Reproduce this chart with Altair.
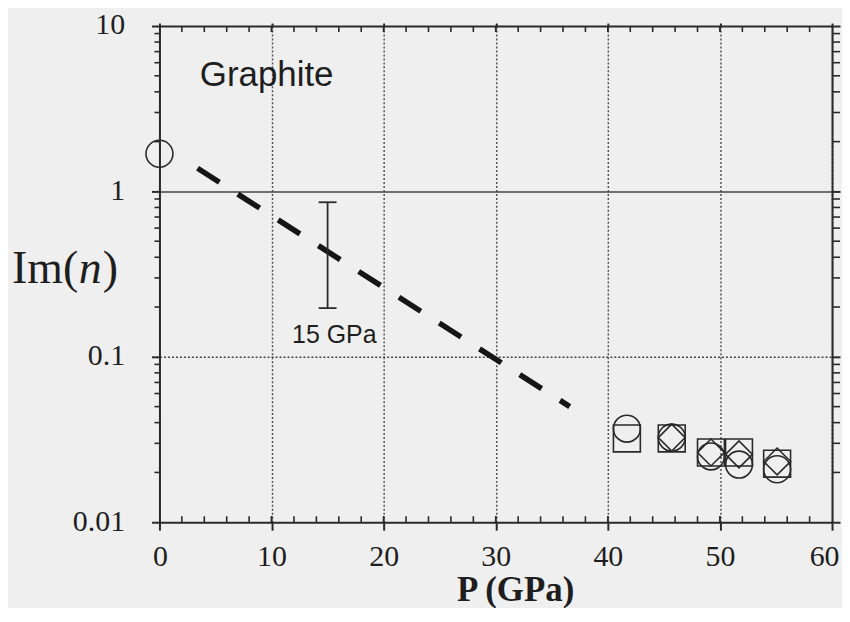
import altair as alt
import pandas as pd

# ---- data ----
circle_p = [0, 41.7, 45.7, 49.2, 51.7, 55.1]
circle_im = [1.69, 0.0368, 0.0325, 0.0250, 0.0223, 0.0209]
square_p = [41.7, 45.7, 49.2, 51.7, 55.1]
square_im = [0.0321, 0.0321, 0.0264, 0.0264, 0.0226]
diamond_p = [45.7, 49.2, 51.7, 55.1]
diamond_im = [0.0325, 0.0264, 0.0257, 0.0233]

trend_p = [3.4, 36.6]
trend_im = [1.38, 0.050]

errbar_p = [15.0]
errbar_lo = [0.197]
errbar_hi = [0.86]
errcap_half = 0.8

x_major = [0, 10, 20, 30, 40, 50, 60]
x_minor = list(range(2, 60, 2))
y_major = [0.01, 0.1, 1, 10]
y_minor = [k * 10.0 ** e for e in (-2, -1, 0) for k in range(2, 10)]

W, H = 675, 498
INK = "#2a2a2a"

xs = alt.Scale(domain=[0, 60], nice=False, zero=False)
ys = alt.Scale(type="log", domain=[0.01, 10], nice=False)

pts = pd.concat([
    pd.DataFrame({"p": circle_p, "im": circle_im, "shape": "circle"}),
    pd.DataFrame({"p": square_p, "im": square_im, "shape": "square"}),
    pd.DataFrame({"p": diamond_p, "im": diamond_im, "shape": "diamond"}),
], ignore_index=True)

shape_enc = alt.Shape("shape:N", scale=alt.Scale(domain=["circle", "square", "diamond"],
                                                 range=["circle", "square", "diamond"]), legend=None)

x_axis_bottom = alt.Axis(
    orient="bottom", values=x_major, format="d",
    labelFont="Liberation Serif", labelFontSize=30, labelColor="#1e1e1e",
    labelBaseline="alphabetic", labelPadding=35, labelFlush=True, labelFlushOffset=7,
    tickSize=8, tickColor=INK, tickWidth=2,
    domainColor=INK, domainWidth=2,
    grid=True, gridDash=[2, 2], gridColor="#555", gridWidth=1.5,
    title="P (GPa)", titleFont="Liberation Serif", titleFontSize=35,
    titleFontWeight="bold", titleColor="#1e1e1e", titleX=357, titleY=79,
    titleBaseline="alphabetic", titleAnchor="middle",
)
y_axis_left = alt.Axis(
    orient="left", values=y_major, format="~g",
    labelFont="Liberation Serif", labelFontSize=30, labelColor="#1e1e1e",
    labelBaseline="alphabetic", labelOffset=8, labelPadding=27,
    tickSize=8, tickColor=INK, tickWidth=2,
    domainColor=INK, domainWidth=2,
    grid=True, gridColor="#444", gridWidth=1.5,
    gridDash={"condition": {"test": "datum.value == 1", "value": []}, "value": [2, 2]},
    gridOpacity={"condition": {"test": "datum.value < 0.05 || datum.value > 5", "value": 0}, "value": 1},
    title=None,
)

points = alt.Chart(pts).mark_point(filled=False, size=729, strokeWidth=1.6, color=INK, opacity=1).encode(
    x=alt.X("p:Q", scale=xs, axis=x_axis_bottom),
    y=alt.Y("im:Q", scale=ys, axis=y_axis_left),
    shape=shape_enc,
)

mirror = alt.Chart(pts).mark_point(opacity=0).encode(
    x=alt.X("p:Q", scale=xs, axis=alt.Axis(orient="top", values=x_major, labels=False, tickSize=3,
                                             tickColor=INK, tickWidth=2, domainColor=INK, domainWidth=2,
                                             grid=False, title=None)),
    y=alt.Y("im:Q", scale=ys, axis=alt.Axis(orient="right", values=y_major, labels=False, tickSize=8,
                                              tickColor=INK, tickWidth=2, domainColor=INK, domainWidth=2,
                                              grid=False, title=None)),
)

xminor_df = pd.DataFrame({"v": x_minor + x_major[1:-1]})
yminor_df = pd.DataFrame({"v": y_minor})

bottom_in = alt.Chart(xminor_df).mark_rule(color=INK, strokeWidth=1.6).encode(
    x=alt.X("v:Q", scale=xs, axis=None), y=alt.value(H), y2=alt.value(H - 6))
top_in = alt.Chart(xminor_df).mark_rule(color=INK, strokeWidth=1.6).encode(
    x=alt.X("v:Q", scale=xs, axis=None), y=alt.value(0), y2=alt.value(6))
left_out = alt.Chart(yminor_df).mark_rule(color=INK, strokeWidth=1.6).encode(
    y=alt.Y("v:Q", scale=ys, axis=None), x=alt.value(0), x2=alt.value(-5))
right_out = alt.Chart(yminor_df).mark_rule(color=INK, strokeWidth=1.6).encode(
    y=alt.Y("v:Q", scale=ys, axis=None), x=alt.value(W), x2=alt.value(W + 8))

trend = alt.Chart(pd.DataFrame({"p": trend_p, "im": trend_im})).mark_line(
    color="#151515", strokeWidth=5.5, strokeDash=[26, 22], strokeCap="butt").encode(
    x=alt.X("p:Q", scale=xs, axis=None), y=alt.Y("im:Q", scale=ys, axis=None))

eb_df = pd.DataFrame({"p": errbar_p, "lo": errbar_lo, "hi": errbar_hi})
eb_v = alt.Chart(eb_df).mark_rule(color=INK, strokeWidth=1.8).encode(
    x=alt.X("p:Q", scale=xs, axis=None), y=alt.Y("lo:Q", scale=ys, axis=None), y2="hi:Q")
caps_df = pd.DataFrame({
    "x1": [errbar_p[0] - errcap_half] * 2,
    "x2": [errbar_p[0] + errcap_half] * 2,
    "y": [errbar_lo[0], errbar_hi[0]],
})
eb_caps = alt.Chart(caps_df).mark_rule(color=INK, strokeWidth=1.8).encode(
    x=alt.X("x1:Q", scale=xs, axis=None), x2="x2:Q", y=alt.Y("y:Q", scale=ys, axis=None))

graphite = alt.Chart(pd.DataFrame({"p": [3.6], "im": [4.35], "t": ["Graphite"]})).mark_text(
    font="Liberation Sans", fontSize=35, align="left", baseline="alphabetic", color="#1e1e1e").encode(
    x=alt.X("p:Q", scale=xs, axis=None), y=alt.Y("im:Q", scale=ys, axis=None), text="t:N")
gpa15 = alt.Chart(pd.DataFrame({"p": [15.6], "im": [0.121], "t": ["15 GPa"]})).mark_text(
    font="Liberation Sans", fontSize=25, align="center", baseline="alphabetic", color="#1e1e1e").encode(
    x=alt.X("p:Q", scale=xs, axis=None), y=alt.Y("im:Q", scale=ys, axis=None), text="t:N")

yt1 = alt.Chart(pd.DataFrame({"t": ["Im("]})).mark_text(
    font="Liberation Serif", fontSize=46, align="left", baseline="alphabetic", color="#1e1e1e").encode(
    x=alt.value(-148), y=alt.value(258), text="t:N")
yt2 = alt.Chart(pd.DataFrame({"t": ["n"]})).mark_text(
    font="Liberation Serif", fontSize=46, fontStyle="italic", align="left", baseline="alphabetic",
    color="#1e1e1e").encode(x=alt.value(-81), y=alt.value(258), text="t:N")
yt3 = alt.Chart(pd.DataFrame({"t": [")"]})).mark_text(
    font="Liberation Serif", fontSize=46, align="left", baseline="alphabetic", color="#1e1e1e").encode(
    x=alt.value(-57), y=alt.value(258), text="t:N")

chart = alt.layer(
    points, mirror, bottom_in, top_in, left_out, right_out, trend, eb_v, eb_caps,
    graphite, gpa15, yt1, yt2, yt3,
).resolve_axis(x="independent", y="independent").properties(
    width=W, height=H,
    autosize=alt.AutoSizeParams(type="none"),
    padding={"left": 152, "top": 17, "right": 10, "bottom": 85},
    background="#efefef",
).configure_view(stroke=None)

chart.save("out.html", embed_options={"renderer": "svg", "actions": False})
